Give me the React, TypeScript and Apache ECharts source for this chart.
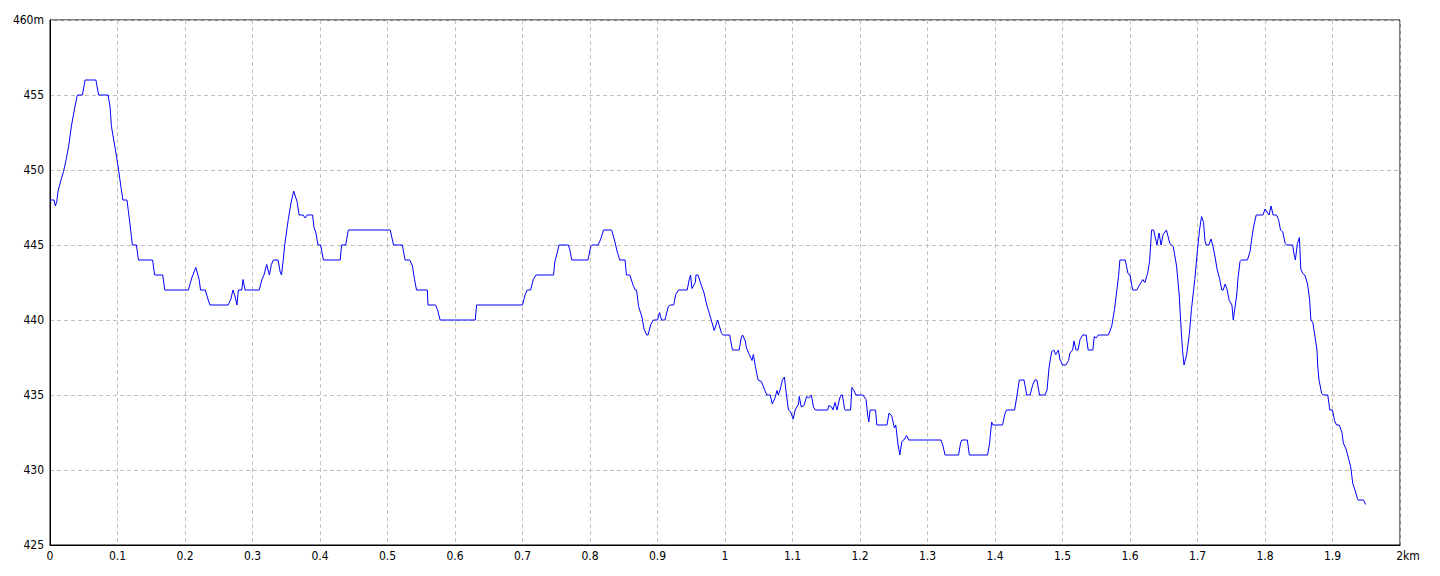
import React, { useEffect, useRef } from "react";
import * as echarts from "echarts";

// distance along the route (metres)
const distanceM = [
  0, 6, 8, 10, 12, 16, 20, 24, 28, 32, 36, 40, 41, 48, 52, 68, 72, 86, 89, 91,
  96, 101, 105, 108, 114, 116, 119, 122, 128, 131, 152, 155, 167, 170, 205, 210, 216, 221, 223, 230,
  234, 237, 264, 268, 271, 274, 277, 279, 284, 286, 289, 310, 314, 317, 321, 325, 328, 331, 338, 341,
  343, 346, 348, 353, 357, 361, 366, 369, 375, 378, 381, 389, 391, 394, 397, 401, 405, 430, 432, 438,
  442, 504, 506, 509, 522, 526, 533, 537, 540, 543, 559, 560, 571, 574, 578, 630, 632, 700, 704, 707,
  712, 716, 720, 746, 748, 752, 754, 768, 770, 773, 797, 801, 804, 812, 816, 820, 832, 837, 840, 844,
  852, 854, 859, 864, 867, 869, 872, 877, 880, 884, 886, 890, 894, 900, 903, 906, 911, 916, 919, 924,
  927, 931, 944, 947, 949, 951, 956, 957, 960, 965, 969, 973, 979, 984, 989, 995, 997, 1007, 1011, 1021,
  1024, 1026, 1030, 1032, 1036, 1040, 1042, 1045, 1049, 1054, 1059, 1062, 1067, 1070, 1074, 1077, 1079, 1082, 1085, 1088,
  1090, 1094, 1097, 1101, 1104, 1109, 1110, 1113, 1117, 1121, 1124, 1128, 1131, 1134, 1152, 1154, 1158, 1160, 1163, 1166,
  1170, 1172, 1174, 1177, 1178, 1186, 1188, 1191, 1194, 1204, 1209, 1211, 1213, 1215, 1223, 1225, 1240, 1243, 1247, 1251,
  1253, 1256, 1259, 1262, 1265, 1269, 1272, 1320, 1323, 1326, 1346, 1349, 1351, 1359, 1362, 1389, 1392, 1395, 1397, 1411,
  1415, 1417, 1429, 1432, 1436, 1443, 1447, 1452, 1456, 1459, 1462, 1466, 1474, 1477, 1480, 1484, 1487, 1490, 1494, 1496,
  1500, 1505, 1509, 1511, 1515, 1517, 1520, 1523, 1526, 1530, 1535, 1538, 1545, 1547, 1550, 1553, 1568, 1573, 1577, 1580,
  1583, 1585, 1593, 1597, 1600, 1604, 1610, 1615, 1619, 1622, 1626, 1629, 1632, 1635, 1640, 1643, 1646, 1649, 1654, 1659,
  1664, 1669, 1673, 1676, 1678, 1680, 1684, 1688, 1691, 1696, 1700, 1703, 1706, 1709, 1711, 1713, 1717, 1720, 1723, 1726,
  1729, 1733, 1736, 1738, 1741, 1744, 1747, 1751, 1753, 1756, 1758, 1760, 1763, 1765, 1774, 1778, 1780, 1783, 1787, 1797,
  1800, 1803, 1806, 1809, 1812, 1817, 1820, 1823, 1826, 1830, 1832, 1841, 1843, 1845, 1848, 1851, 1853, 1856, 1859, 1863,
  1866, 1868, 1871, 1874, 1877, 1878, 1880, 1884, 1886, 1893, 1896, 1900, 1903, 1906, 1910, 1914, 1916, 1920, 1923, 1927,
  1930, 1933, 1937, 1938, 1946, 1949,
];

// elevation (metres)
const elevationM = [
  448, 448, 447.6, 447.9, 448.6, 449.3, 449.9, 450.7, 451.7, 453.0, 454.0, 454.9, 455, 455, 456, 456, 455, 455, 454.2, 452.9,
  451.6, 450.2, 448.9, 448, 448, 447.3, 446.2, 445, 445, 444, 444, 443, 443, 442, 442, 442.8, 443.5, 442.7, 442, 442,
  441.4, 441, 441, 441.4, 442, 441.6, 441, 442, 442, 442.7, 442, 442, 442.7, 443, 443.7, 443, 443.7, 444, 444, 443.2,
  443, 444.2, 445.1, 446.7, 447.8, 448.6, 447.9, 447, 447, 446.8, 447, 447, 446.2, 445.8, 445, 445, 444, 444, 445, 445,
  446, 446, 445.6, 445, 445, 444, 444, 443.6, 442.7, 442, 442, 441, 441, 440.7, 440, 440, 441, 441, 441.7, 442,
  442, 442.7, 443, 443, 443.9, 444.6, 445, 445, 444.7, 444, 444, 444.9, 445, 445, 445.4, 446, 446, 445.2, 444.6, 444,
  444, 443, 443, 442.3, 442, 442, 440.9, 440.2, 439.4, 439, 439, 439.7, 440, 440, 440.5, 440, 440, 440.9, 441, 441,
  441.7, 442, 442, 442.7, 443, 442.1, 442.5, 443, 443, 442.3, 441.8, 441, 440.1, 439.3, 440, 439.1, 439, 439, 438, 438,
  438.8, 439, 438.6, 438.1, 437.7, 437.3, 437.7, 436.9, 436, 435.9, 435.3, 435, 435, 434.4, 434.8, 435.3, 435, 435.4, 436, 436.2,
  435.4, 434, 433.9, 433.4, 434, 434.4, 434.9, 434.2, 434.3, 434.9, 434.8, 435, 434.2, 434, 434, 434.3, 434.2, 434, 434.5, 434,
  434.8, 435, 435, 434.1, 434, 434, 435.5, 435.3, 435, 435, 434.7, 433.8, 433.2, 434, 434, 433, 433, 433.8, 433.6, 432.8,
  433, 431.8, 431, 431.9, 432, 432.3, 432, 432, 431.6, 431, 431, 431.8, 432, 432, 431, 431, 431.8, 433.2, 433, 433,
  433.8, 434, 434, 434.8, 436, 436, 435, 435, 435.7, 436, 436, 435, 435, 435.3, 436.8, 437.9, 438, 437.7, 438, 437.4,
  437, 437, 437.3, 437.8, 438, 438.6, 438, 438, 438.7, 439, 439, 438, 438, 438.9, 438.8, 439, 439, 439.6, 440.7, 441.8,
  442.9, 444, 444, 443.1, 443, 442, 442, 442.4, 442.7, 442.5, 443.1, 443.9, 446, 446, 445, 445.8, 445, 445.7, 446, 445.1,
  444.9, 443.6, 441.6, 439.2, 437.9, 437, 437.7, 439.1, 440.7, 442.7, 444.7, 446, 446.9, 446.5, 445.3, 445, 445, 445.4, 444.9, 444.2,
  443.4, 442.7, 442, 442, 442.4, 442, 441.3, 441, 440, 441, 441.6, 442.8, 443.9, 444, 444, 444.6, 445.3, 446.2, 447, 447,
  447.4, 447.2, 447, 447.6, 447, 447, 446.7, 446, 445.9, 445.1, 445, 445, 444.4, 444, 445.1, 445.5, 443.4, 443.1, 443, 442.4,
  441.4, 440, 439.8, 438.9, 438, 437, 436, 435.1, 435, 435, 434, 434, 433.3, 433, 433, 432.5, 431.8, 431.4, 430.9, 430.2,
  429.1, 428.7, 428.1, 428, 428, 427.7,
];

const xTickStepM = 100;
const yTickStep = 5;

export default function App() {
  const ref = useRef<HTMLDivElement>(null);

  useEffect(() => {
    document.body.style.margin = "0";
    if (!ref.current) return;
    const chart = echarts.init(ref.current, null, { renderer: "svg" });
    const data = distanceM.map((d, i) => [d, elevationM[i]]);
    const font = "'Liberation Sans Narrow', 'DejaVu Sans Condensed', sans-serif";
    chart.setOption({
      animation: false,
      backgroundColor: "#ffffff",
      grid: {
        left: 50,
        right: 40,
        top: 20,
        bottom: 31,
        show: true,
        borderColor: "#000000",
        borderWidth: 1,
        backgroundColor: "transparent",
      },
      xAxis: {
        type: "value",
        min: 0,
        max: 2000,
        interval: xTickStepM,
        axisLine: { show: true, lineStyle: { color: "#000000", width: 1 } },
        axisTick: { show: false },
        splitLine: { show: true, lineStyle: { color: "#c0c0c0", type: [4, 3], width: 1 } },
        axisLabel: {
          color: "#000000",
          fontFamily: font,
          fontSize: 12,
          margin: 5,
          formatter: (v: number) => {
            if (v === 2000) return "{k|2km}";
            if (v === 0) return "0";
            return String(+(v / 1000).toFixed(1));
          },
          rich: {
            k: { color: "#000000", fontFamily: font, fontSize: 12, padding: [0, 0, 0, 16] },
          },
        },
      },
      yAxis: {
        type: "value",
        min: 425,
        max: 460,
        interval: yTickStep,
        axisLine: { show: true, lineStyle: { color: "#000000", width: 1 } },
        axisTick: { show: false },
        splitLine: { show: true, lineStyle: { color: "#c0c0c0", type: [4, 3], width: 1 } },
        axisLabel: {
          color: "#000000",
          fontFamily: font,
          fontSize: 12,
          margin: 6,
          formatter: (v: number) => (v === 460 ? "460m" : String(v)),
        },
      },
      series: [
        {
          type: "line",
          data,
          showSymbol: false,
          symbol: "none",
          lineStyle: { color: "#0000ff", width: 1 },
          itemStyle: { color: "#0000ff" },
        },
      ],
    });
    return () => chart.dispose();
  }, []);

  return <div ref={ref} style={{ width: 1440, height: 576 }} />;
}
